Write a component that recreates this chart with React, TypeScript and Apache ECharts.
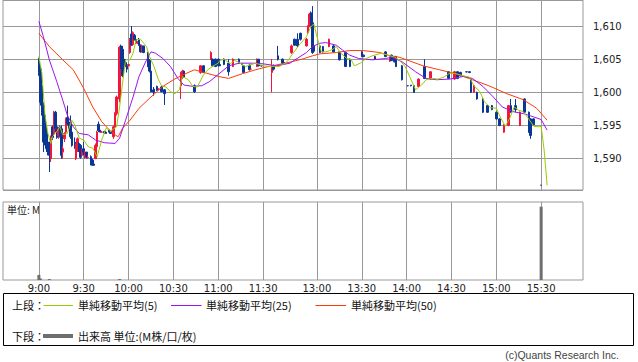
import React, { useEffect, useRef } from 'react';
import * as echarts from 'echarts';

// ---- Candles (time, open, close, low, high) ----
const candleTimes = [
  '9:00','9:01','9:02','9:03','9:04','9:05','9:06','9:07','9:08','9:09','9:10','9:11','9:12','9:13','9:14','9:15','9:16','9:17','9:18','9:19','9:20','9:21','9:22','9:24','9:25','9:26','9:27','9:28','9:29',
  '9:30','9:31','9:32','9:33','9:35','9:36','9:37','9:38','9:39','9:40','9:41','9:42','9:44','9:45','9:47','9:48','9:50','9:51','9:52','9:54','9:55','9:56','9:57','9:58','9:59',
  '10:00','10:01','10:02','10:03','10:04','10:05','10:06','10:07','10:08','10:09','10:10','10:13','10:14','10:15','10:16','10:17','10:19','10:20','10:22','10:24',
  '10:35','10:36','10:37','10:44','10:48','10:50','10:55','10:56','10:58',
  '11:00','11:01','11:04','11:07','11:10','11:14','11:16','11:17','11:21','11:22','11:26','11:27','11:29',
  '12:30','12:31','12:34','12:37','12:38','12:43','12:45','12:47','12:49','12:53','12:54','12:55','12:56','12:57','12:58',
  '13:02','13:04','13:08','13:11','13:15','13:19','13:22','13:30','13:31','13:39','13:46','13:49','13:50','13:52','13:53','13:57',
  '14:01','14:03','14:05','14:08','14:12','14:16','14:28','14:32','14:34','14:36','14:40','14:42','14:43','14:45','14:47','14:51','14:54','14:57',
  '15:00','15:02','15:05','15:08','15:10','15:13','15:16','15:19','15:22','15:23','15:25','15:30'
];
const opens = [
  1605,1603.5,1601,1598,1596.5,1594,1592,1592.5,1590,1594.8,1593.8,1597,1594.8,1593.5,1594.8,1594.5,1591,1593,1594,1596.2,1595.5,1595.5,1594,1592.5,1590,1591.2,1592.3,1592,1590.5,
  1591.5,1590.5,1591,1590.2,1590.3,1589.8,1589.2,1590,1591.8,1595.2,1594.3,1594,1594.1,1594,1594.3,1594,1593.3,1594.8,1596.8,1599,1607,1606.5,1605,1604.5,1604,
  1604,1606,1608.8,1607.2,1608.6,1608,1607.4,1608,1607.1,1606.2,1607,1606,1604.8,1603.2,1600.3,1600.5,1600.9,1600.5,1600.8,1600.4,
  1601,1602.5,1603.2,1601,1603,1604,1605,1605,1605,
  1605,1604.2,1605,1604.4,1603.9,1605,1604.3,1604,1604.1,1603.5,1603.9,1605,1604,
  1603,1604,1605.5,1605,1604.5,1606,1608,1608,1608.9,1607,1609,1610,1612,1610.5,1607,
  1607,1606.9,1606.9,1607,1606.1,1606,1605,1606.1,1605.6,1605.4,1606.1,1604.7,1605.6,1605.4,1605.4,1604,
  1601,1601.1,1601,1600.9,1603.9,1602,1603.1,1602,1603.1,1603,1603.1,1603.1,1602,1600,1600,1599,1598,1598,
  1597,1596,1594,1595,1598,1598,1595,1599,1597,1596,1596,1586
];
const closes = [
  1603,1598.5,1597,1592.5,1593,1591.5,1591,1590.5,1593,1593.2,1597,1594.5,1593.2,1594.5,1593.4,1590.5,1591.5,1593.8,1596,1595.3,1594.8,1593.3,1592,1591.8,1592,1593,1591.2,1590.2,1591.3,
  1591,1591,1590.2,1590.2,1589.2,1589,1589,1592,1594,1594.2,1594,1594,1593.9,1593.8,1594,1593.8,1594.8,1596.8,1599.3,1606.8,1604,1602.5,1604,1604,1603.5,
  1604.2,1608,1607.2,1609,1608,1607.5,1607.6,1607.1,1606.1,1607,1606,1604,1603.2,1600.1,1600.1,1600,1600.3,1600.5,1600.1,1599.8,
  1603,1603.2,1602.3,1600.1,1604,1603,1606,1604,1603.9,
  1604,1604,1604.2,1603.1,1605,1604.4,1604.2,1603,1603.4,1603.5,1605,1604,1604,
  1603.9,1603.5,1605,1604.4,1604.4,1607,1607.1,1607,1608,1608,1610,1611.8,1610.1,1606,1606.2,
  1606,1606.1,1608,1606.1,1604.9,1603.9,1603.9,1605.4,1605.4,1605,1605.4,1605.3,1604.8,1604.6,1603.9,1601.9,
  1601,1601,1600,1602,1602.1,1603.1,1602.1,1603.1,1602.1,1602.5,1603.1,1603,1600,1601,1599,1597,1597,1597.4,
  1596,1595,1595.1,1598,1597,1597.4,1597,1597,1594,1593.5,1595.1,1586
];
const lows = [
  1602.5,1598,1596.5,1591,1592,1591,1590.5,1588,1589.5,1592.8,1593.5,1594,1593,1593,1593.2,1590,1590,1592.5,1593.8,1595,1594.5,1593,1591.8,1591.5,1589.8,1591,1591,1590,1590.3,
  1590.5,1590,1590,1590,1589,1589,1589,1590,1591.5,1594,1594,1594,1593.8,1593.8,1594,1593.8,1593,1594.5,1596.5,1598.5,1603.5,1602.3,1603.5,1603.8,1603,
  1604,1605.8,1607,1607,1607.8,1607.3,1607.3,1607,1606,1606,1605.9,1603.8,1603,1600,1600,1599.5,1600.2,1600.4,1600,1598.1,
  1599,1602,1602.2,1599.9,1602.8,1602.9,1604.9,1603.9,1603.8,
  1603.9,1604,1604.1,1602.5,1603.8,1604.3,1604.1,1602.9,1603.3,1603.4,1603.8,1603.9,1603.9,
  1600,1603.3,1604.8,1604.3,1604.3,1605.8,1607,1606.8,1607.8,1606.9,1608.8,1609.8,1610,1605.8,1606,
  1605.9,1606,1606.8,1606,1604.8,1603.8,1603.8,1605.3,1605.3,1604.9,1605.3,1604.6,1604.7,1604.5,1603.8,1601.8,
  1600.9,1600.9,1599.9,1600.8,1602,1601.9,1602,1601.9,1602,1602.4,1603,1602.9,1599.9,1599.9,1598.9,1596.9,1596.9,1597.3,
  1595.9,1594.9,1593.9,1594.9,1596.9,1597,1594.9,1596.9,1593.9,1593,1595,1586
];
const highs = [
  1605.2,1604,1601.2,1598.5,1597,1595,1593,1592.5,1593.5,1595,1597.2,1597.2,1595,1594.8,1595,1595,1592,1594,1596.2,1598,1595.8,1596.5,1594.5,1593.2,1592.3,1593.2,1592.5,1592.2,1591.5,
  1592.5,1591.2,1591,1590.5,1590.5,1590,1589.5,1592.3,1594.2,1595.6,1594.5,1594.2,1594.2,1594,1594.3,1594,1595,1597,1599.5,1607,1607.2,1607,1605.2,1605,1604.2,
  1604.3,1608.2,1610,1609.2,1608.8,1608.3,1607.7,1608.2,1607.2,1607.2,1607,1606.1,1605,1603.5,1600.4,1600.8,1601,1600.6,1601,1600.5,
  1603.1,1603.4,1603.3,1601.2,1604.1,1604.1,1606.2,1605.1,1605.1,
  1605.1,1604.3,1605.1,1605,1605.1,1605.1,1604.4,1604.1,1604.2,1603.6,1605.1,1605,1604.1,
  1605,1604.2,1607,1605.1,1604.6,1607.2,1608.1,1608.9,1609,1608.2,1610.1,1612,1612.2,1613,1607.3,
  1607.1,1607,1608.1,1607.1,1606.2,1606.1,1605.1,1606.2,1605.7,1605.5,1606.2,1605.4,1605.7,1605.5,1605.5,1604.1,
  1601.1,1601.1,1601.1,1602.1,1605,1603.2,1603.2,1603.2,1603.2,1603.1,1603.2,1603.2,1602.1,1601.1,1600.1,1599.1,1598.1,1598.1,
  1597.1,1596.1,1595.2,1598.1,1599,1599,1597.1,1599.1,1597.1,1596.1,1596.1,1586
];

// ---- Moving averages ----
const ma5Times = ['9:00','9:02','9:04','9:06','9:08','9:09','9:12','9:14','9:16','9:19','9:22','9:24','9:27','9:30','9:33','9:36','9:39','9:42','9:45','9:48','9:52','9:54','9:56','9:58','10:01','10:03','10:05','10:08','10:12','10:14','10:17','10:20','10:22','10:25','10:28','10:31','10:34','10:36','10:40','10:43','10:46','10:50','10:53','10:56','11:00','11:01','11:04','11:08','11:11','11:14','11:18','11:21','11:25','11:30','12:30','12:35','12:40','12:44','12:48','12:53','12:56','12:58','13:00','13:03','13:06','13:10','13:13','13:16','13:20','13:23','13:25','13:29','13:33','13:37','13:43','13:49','13:52','13:55','13:59','14:02','14:06','14:10','14:13','14:17','14:21','14:25','14:29','14:33','14:38','14:42','14:45','14:49','14:52','14:56','15:00','15:03','15:06','15:09','15:12','15:15','15:18','15:21','15:25','15:28','15:30','15:32','15:34'];
const ma5Values = [1605.4,1602.9,1596.8,1593.8,1592.3,1593.3,1594.1,1594.8,1593.6,1593.8,1595.8,1595.1,1593.1,1592.8,1591.8,1591.6,1590.3,1592.8,1594.6,1594.2,1594.8,1597.8,1601.4,1604.9,1604.9,1605.9,1607.9,1608,1606.9,1605.4,1603.9,1601.9,1601,1600.8,1600.1,1599.8,1600.4,1602.4,1601.9,1600.9,1600.8,1602.6,1603.4,1603.9,1604.4,1604.8,1605,1604.3,1604.8,1604.5,1603.9,1604.1,1604.4,1604,1603.9,1603.9,1604.6,1605.9,1607.1,1608.4,1609.9,1610.3,1608.4,1606.1,1606.1,1606.4,1606.9,1605.9,1605.1,1604.9,1604,1604.4,1605.1,1605.5,1605.9,1605.5,1605.3,1604.9,1603.9,1602.4,1600.4,1601.1,1601.9,1602.1,1602,1602.3,1602.9,1602.8,1602.5,1602.3,1601,1600.1,1598.6,1597.7,1597.6,1596.1,1594.9,1596.1,1597.8,1597.3,1597.1,1596.2,1594.9,1594.8,1594.9,1591.3,1586];

const ma25Times = ['9:00','9:03','9:07','9:12','9:16','9:19','9:23','9:27','9:33','9:38','9:44','9:51','9:54','9:58','10:03','10:07','10:12','10:15','10:18','10:23','10:28','10:33','10:37','10:43','10:49','10:54','11:00','11:07','11:14','11:23','11:30','12:33','12:42','12:46','12:53','12:57','13:02','13:06','13:13','13:17','13:22','13:28','13:37','13:46','13:50','13:57','14:06','14:13','14:20','14:29','14:38','14:44','14:51','14:58','15:04','15:11','15:18','15:25','15:30','15:34'];
const ma25Values = [1610.7,1608.4,1604.9,1601.6,1598.8,1596.6,1594.8,1593.8,1593.6,1592.8,1592.4,1592.3,1593.1,1595.8,1599.3,1602.4,1604.9,1606.1,1605.9,1605.1,1603.9,1602.1,1601.1,1600.9,1601,1601.6,1602.7,1604,1604.4,1604.4,1604.3,1604,1604.4,1605,1606,1606.9,1607.4,1607.5,1607.1,1606.4,1605.6,1605.1,1604.9,1605.1,1605.3,1604.6,1603.1,1602.1,1601.9,1602,1602.4,1602.1,1600.9,1599.3,1597.8,1597.1,1596.8,1596.3,1595.9,1594.3];

const ma50Times = ['9:00','9:07','9:16','9:23','9:30','9:36','9:42','9:46','9:51','9:53','9:56','10:01','10:07','10:14','10:23','10:30','10:36','10:44','10:52','11:00','11:07','11:16','11:25','11:30','12:30','12:39','12:50','12:57','13:02','13:13','13:22','13:31','13:42','13:49','13:55','14:00','14:11','14:22','14:33','14:44','14:55','15:07','15:18','15:27','15:34'];
const ma50Values = [1608.9,1606.9,1604.9,1603.4,1600.6,1597.8,1595.6,1594.6,1593.6,1593.3,1594.6,1595.8,1597.6,1599.1,1600.9,1601.9,1602.6,1603.4,1602.9,1602.4,1602.1,1602.8,1603.4,1603.7,1604,1604.4,1605,1605.5,1605.8,1606,1606.3,1606.3,1606,1605.5,1605.3,1604.9,1604,1603.4,1602.8,1601.9,1601,1599.8,1598.9,1597.6,1595.8];

// ---- Volume ----
const volumeTimes = ['9:00','9:01','9:07','9:54','15:30'];
const volumeValues = [0.065, 0.02, 0.012, 0.012, 0.94];

const xTickLabels = ['9:00','9:30','10:00','10:30','11:00','11:30','13:00','13:30','14:00','14:30','15:00','15:30'];
const priceMin = 1585.28;
const priceMax = 1613.92;

const UP = '#f5143c';
const DOWN = '#0a3796';
const C5 = '#99cc00';
const C25 = '#9b14f0';
const C50 = '#ff3a0a';

function fmt(m: number) {
  return `${Math.floor(m / 60)}:${String(m % 60).padStart(2, '0')}`;
}

function buildCategories() {
  const cats: string[] = [];
  for (let m = 8 * 60 + 36; m <= 11 * 60 + 30; m++) cats.push(fmt(m));
  for (let k = 1; k <= 5; k++) cats.push(' '.repeat(k));
  for (let m = 12 * 60 + 30; m <= 15 * 60 + 58; m++) cats.push(fmt(m));
  return cats;
}

export default function App() {
  const ref = useRef<HTMLDivElement>(null);
  useEffect(() => {
    if (!ref.current) return;
    const chart = echarts.init(ref.current, undefined, { renderer: 'svg' });
    const cats = buildCategories();
    const idx = (t: string) => cats.indexOf(t);

    const candle: any[] = cats.map(() => '-');
    candleTimes.forEach((t, i) => {
      candle[idx(t)] = [opens[i], closes[i], lows[i], highs[i]];
    });
    const lineData = (times: string[], vals: number[]) => {
      const arr: any[] = cats.map(() => '-');
      times.forEach((t, i) => { arr[idx(t)] = vals[i]; });
      return arr;
    };
    const vol: any[] = cats.map(() => '-');
    volumeTimes.forEach((t, i) => { vol[idx(t)] = volumeValues[i]; });

    const tickSet = new Set(xTickLabels);
    const axisFont = { fontFamily: 'DejaVu Sans', fontSize: 10, color: '#222' };
    const cjk = '"Noto Sans CJK JP", sans-serif';

    chart.setOption({
      animation: false,
      backgroundColor: '#fff',
      grid: [
        { left: 3, top: 0, width: 580, height: 190, show: true, borderColor: '#999', borderWidth: 1 },
        { left: 3, top: 202, width: 580, height: 78, show: true, borderColor: '#999', borderWidth: 1 },
      ],
      xAxis: [
        {
          type: 'category', gridIndex: 0, data: cats, boundaryGap: false,
          axisLine: { show: false }, axisTick: { show: false }, axisLabel: { show: false },
          splitLine: { show: true, interval: (_i: number, v: string) => tickSet.has(v), lineStyle: { color: '#999', width: 1 } },
        },
        {
          type: 'category', gridIndex: 1, data: cats, boundaryGap: false,
          axisLine: { show: false }, axisTick: { show: false },
          axisLabel: { ...axisFont, margin: 3, interval: (_i: number, v: string) => tickSet.has(v) },
          splitLine: { show: true, interval: (_i: number, v: string) => tickSet.has(v), lineStyle: { color: '#999', width: 1 } },
        },
      ],
      yAxis: [
        {
          type: 'value', gridIndex: 0, position: 'right', min: priceMin, max: priceMax, splitNumber: 5, scale: true,
          axisLine: { show: false }, axisTick: { show: false },
          axisLabel: { ...axisFont, margin: 10, showMinLabel: false, showMaxLabel: false,
            formatter: (v: number) => (Math.abs(v - Math.round(v)) < 1e-6 ? Math.round(v).toLocaleString('en-US') : '') },
          splitLine: { show: true, lineStyle: { color: '#999', width: 1 } },
        },
        {
          type: 'value', gridIndex: 1, min: 0, max: 1,
          axisLine: { show: false }, axisTick: { show: false }, axisLabel: { show: false }, splitLine: { show: false },
        },
      ],
      series: [
        {
          type: 'candlestick', xAxisIndex: 0, yAxisIndex: 0, data: candle, barWidth: 2,
          itemStyle: { color: UP, color0: DOWN, borderColor: UP, borderColor0: DOWN, borderWidth: 1 },
        },
        { type: 'line', xAxisIndex: 0, yAxisIndex: 0, data: lineData(ma50Times, ma50Values), connectNulls: true, showSymbol: false, symbol: 'none', lineStyle: { color: C50, width: 1 } },
        { type: 'line', xAxisIndex: 0, yAxisIndex: 0, data: lineData(ma25Times, ma25Values), connectNulls: true, showSymbol: false, symbol: 'none', lineStyle: { color: C25, width: 1 } },
        { type: 'line', xAxisIndex: 0, yAxisIndex: 0, data: lineData(ma5Times, ma5Values), connectNulls: true, showSymbol: false, symbol: 'none', lineStyle: { color: C5, width: 1 } },
        { type: 'bar', xAxisIndex: 1, yAxisIndex: 1, data: vol, barWidth: 3, itemStyle: { color: '#6e6e6e' } },
      ],
      graphic: [
        { type: 'text', x: 7, y: 209, style: { text: '単位: M', font: `10px ${cjk}`, fill: '#222', verticalAlign: 'middle' } },
        { type: 'rect', shape: { x: 3.5, y: 293.5, width: 630, height: 52 }, style: { fill: '#fff', stroke: '#000', lineWidth: 1 } },
        { type: 'text', x: 12, y: 305, style: { text: '上段：', font: `11px ${cjk}`, fill: '#111', verticalAlign: 'middle' } },
        { type: 'line', shape: { x1: 43.5, y1: 305.5, x2: 73, y2: 305.5 }, style: { stroke: C5, lineWidth: 1 } },
        { type: 'text', x: 78, y: 305, style: { text: '単純移動平均(5)', font: `11px ${cjk}`, fill: '#111', verticalAlign: 'middle' } },
        { type: 'line', shape: { x1: 171, y1: 305.5, x2: 201.5, y2: 305.5 }, style: { stroke: C25, lineWidth: 1 } },
        { type: 'text', x: 206, y: 305, style: { text: '単純移動平均(25)', font: `11px ${cjk}`, fill: '#111', verticalAlign: 'middle' } },
        { type: 'line', shape: { x1: 315.5, y1: 305.5, x2: 346, y2: 305.5 }, style: { stroke: C50, lineWidth: 1 } },
        { type: 'text', x: 351, y: 305, style: { text: '単純移動平均(50)', font: `11px ${cjk}`, fill: '#111', verticalAlign: 'middle' } },
        { type: 'text', x: 12, y: 336, style: { text: '下段：', font: `11px ${cjk}`, fill: '#111', verticalAlign: 'middle' } },
        { type: 'line', shape: { x1: 43, y1: 336, x2: 73, y2: 336 }, style: { stroke: '#6e6e6e', lineWidth: 4 } },
        { type: 'text', x: 78, y: 336, style: { text: '出来高 単位:(M株/口/枚)', font: `11px ${cjk}`, fill: '#111', verticalAlign: 'middle' } },
        { type: 'text', x: 619, y: 355, style: { text: '(c)Quants Research Inc.', font: '10.5px "Liberation Sans", sans-serif', fill: '#444', align: 'right', verticalAlign: 'middle' } },
      ],
    });
    return () => chart.dispose();
  }, []);
  return <div ref={ref} style={{ position: 'fixed', left: 0, top: 0, width: 638, height: 362, background: '#fff' }} />;
}
